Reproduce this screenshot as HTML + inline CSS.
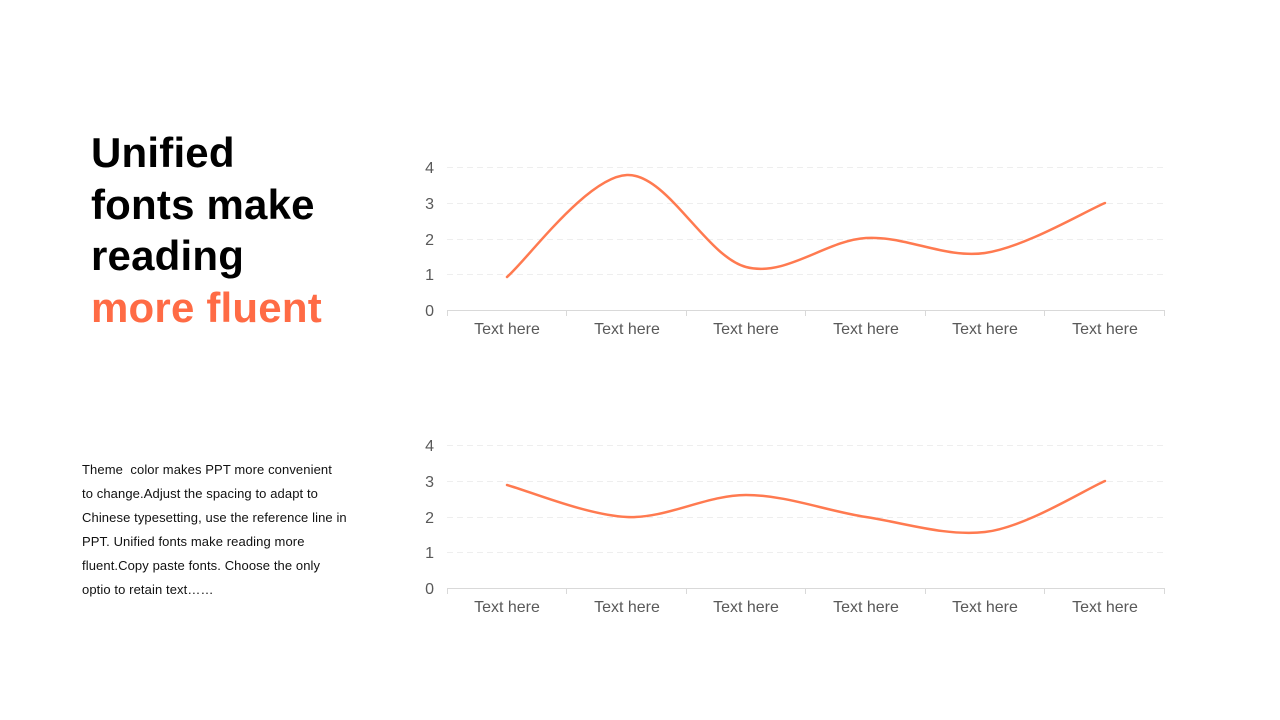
<!DOCTYPE html>
<html><head><meta charset="utf-8"><style>
body{margin:0;width:1280px;height:720px;background:#fff;overflow:hidden;position:relative;font-family:"Liberation Sans",Arial,sans-serif}
.t{position:absolute;left:91px;top:127px;font-size:42px;font-weight:bold;line-height:51.5px;color:#000;letter-spacing:0.2px}
.t span{color:#FF6B45}
.p{position:absolute;left:82px;top:458px;width:300px;font-size:13px;letter-spacing:0.1px;line-height:24px;color:#111;white-space:nowrap}
svg{position:absolute;left:0;top:0}
</style></head><body>
<div class="t">Unified<br>fonts make<br>reading<br><span>more fluent</span></div>
<div class="p">Theme&nbsp; color makes PPT more convenient<br>to change.Adjust the spacing to adapt to<br>Chinese typesetting, use the reference line in<br>PPT. Unified fonts make reading more<br>fluent.Copy paste fonts. Choose the only<br>optio to retain text……</div>
<svg width="1280" height="720" font-family="Liberation Sans, Arial, sans-serif">
<g stroke="#eee" stroke-dasharray="6,4" stroke-width="1">
<line x1="447" x2="1164" y1="167.5" y2="167.5"/><line x1="447" x2="1164" y1="203.5" y2="203.5"/><line x1="447" x2="1164" y1="239.5" y2="239.5"/><line x1="447" x2="1164" y1="274.5" y2="274.5"/>
<line x1="447" x2="1164" y1="445.5" y2="445.5"/><line x1="447" x2="1164" y1="481.5" y2="481.5"/><line x1="447" x2="1164" y1="517.5" y2="517.5"/><line x1="447" x2="1164" y1="552.5" y2="552.5"/>
</g>
<g stroke="#d9d9d9" stroke-width="1">
<line x1="447" x2="1164" y1="310.5" y2="310.5"/><line x1="447" x2="1164" y1="588.5" y2="588.5"/>
<path d="M447.5 310v6M566.5 310v6M686.5 310v6M805.5 310v6M925.5 310v6M1044.5 310v6M1164.5 310v6M447.5 588v6M566.5 588v6M686.5 588v6M805.5 588v6M925.5 588v6M1044.5 588v6M1164.5 588v6"/>
</g>
<g fill="#595959" font-size="16" text-anchor="end">
<text x="434" y="173">4</text><text x="434" y="209">3</text><text x="434" y="245">2</text><text x="434" y="280">1</text><text x="434" y="316">0</text>
<text x="434" y="451">4</text><text x="434" y="487">3</text><text x="434" y="523">2</text><text x="434" y="558">1</text><text x="434" y="594">0</text>
</g>
<g fill="#595959" font-size="16" text-anchor="middle">
<text x="507" y="334">Text here</text><text x="627" y="334">Text here</text><text x="746" y="334">Text here</text><text x="866" y="334">Text here</text><text x="985" y="334">Text here</text><text x="1105" y="334">Text here</text>
<text x="507" y="612">Text here</text><text x="627" y="612">Text here</text><text x="746" y="612">Text here</text><text x="866" y="612">Text here</text><text x="985" y="612">Text here</text><text x="1105" y="612">Text here</text>
</g>
<g fill="none" stroke="#FF7A50" stroke-width="2.5" stroke-linecap="round">
<path d="M507 277C527 260 587 176.7 627 175C667 173.3 706 256.5 746 267C786 277.5 826 240.3 866 238C906 235.7 945 258.8 985 253C1025 247.2 1085 211.3 1105 203"/>
<path d="M507 485C527 490.3 587 515.3 627 517C667 518.7 706 495 746 495C786 495 826 510.8 866 517C906 523.2 945 536.3 985 532C1025 527.7 1085 489.5 1105 481"/>
</g>
</svg>
</body></html>
